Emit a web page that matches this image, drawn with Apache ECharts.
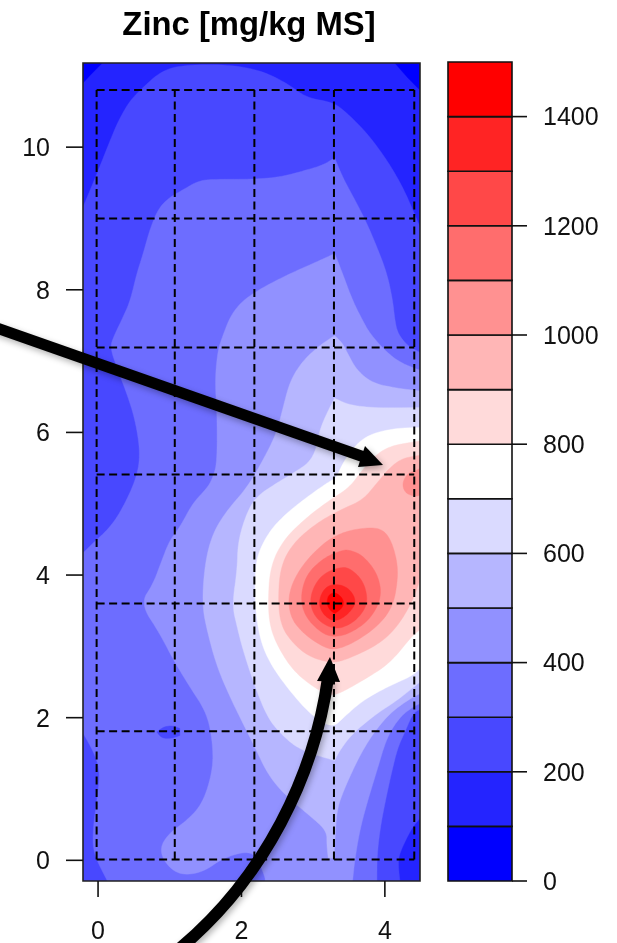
<!DOCTYPE html>
<html><head><meta charset="utf-8">
<style>html,body{margin:0;padding:0;background:#fff}#c{width:617px;height:943px}</style>
<script src="https://cdn.jsdelivr.net/npm/echarts@6/dist/echarts.min.js"></script>
</head><body><div id="c"></div>
<script>
const titleText='Zinc [mg/kg MS]';
const xTicks=[0,2,4];
const yTicks=[0,2,4,6,8,10];
const legendTicks=[0,200,400,600,800,1000,1200,1400];
const levels=[0,100,200,300,400,500,600,700,800,900,1000,1100,1200,1300,1400,1500];
const bandColors=['#0000ff','#2424ff','#4848ff','#6d6dff','#9191ff','#b6b6ff','#dadaff','#ffffff','#ffdada','#ffb6b6','#ff9191','#ff6d6d','#ff4848','#ff2424','#ff0000'];
const xRange=[-0.21,4.49];
const yRange=[-0.29,11.18];
const sampleX=[-0.02,1.07,2.18,3.29,4.41];
const sampleY=[0.01,1.81,3.60,5.41,7.19,9.00,10.80];

// Contour outlines in data units
const below100a=[[-0.21,11.18],[-0.21,10.90],[-0.11,11.01],[0.06,11.18]];
const below100b=[[4.14,11.18],[4.31,10.98],[4.49,10.80],[4.49,11.18]];
const above200=[[-0.21,9.16],[-0.01,9.64],[0.21,10.20],[0.31,10.42],[0.45,10.66],[0.63,10.84],[0.86,11.05],[1.14,11.15],[1.80,11.16],[2.26,11.08],[2.63,10.90],[2.91,10.69],[3.28,10.63],[3.47,10.48],[3.75,10.20],[4.03,9.82],[4.25,9.44],[4.39,9.12],[4.49,8.88],[4.49,0.59],[4.38,0.46],[4.24,0.18],[4.18,0],[4.21,-0.29],[-0.21,-0.29]];
const above300=[[-0.21,4.31],[-0.07,4.45],[0.17,4.67],[0.35,4.95],[0.54,5.37],[0.59,5.71],[0.52,6.17],[0.40,6.55],[0.26,6.91],[0.17,7.19],[0.21,7.33],[0.35,7.62],[0.45,7.85],[0.54,8.23],[0.63,8.51],[0.72,8.84],[0.84,9.14],[1.00,9.30],[1.18,9.40],[1.42,9.54],[1.70,9.55],[2.16,9.55],[2.54,9.58],[2.91,9.68],[3.14,9.75],[3.30,9.85],[3.41,9.58],[3.61,9.21],[3.75,8.93],[3.89,8.60],[4.03,8.23],[4.11,7.85],[4.14,7.57],[4.18,7.39],[4.31,7.22],[4.49,7.12],[4.49,2.12],[4.39,2.06],[4.28,1.80],[4.18,1.58],[4.10,1.26],[4.00,0.80],[3.93,0.42],[3.89,0.04],[3.89,-0.29],[0.13,-0.29],[-0.07,0.10],[-0.07,0.46],[-0.01,0.88],[0.03,1.26],[-0.07,1.54],[-0.21,1.78]];
const dip300=[[0.82,1.80],[0.91,1.87],[1.03,1.89],[1.14,1.85],[1.14,1.75],[1.03,1.71],[0.89,1.71]];
const above400=[[2.33,-0.29],[2.33,-0.24],[2.22,0.04],[2.08,0.13],[1.74,0.03],[1.46,-0.17],[1.14,-0.21],[0.93,-0.04],[0.86,0.18],[1.00,0.39],[1.24,0.56],[1.46,0.80],[1.60,1.26],[1.60,1.64],[1.52,2.06],[1.28,2.43],[1.05,2.81],[0.86,3.18],[0.59,3.60],[0.77,3.88],[0.89,4.21],[1.00,4.49],[1.14,4.67],[1.32,5.01],[1.53,5.23],[1.60,5.37],[1.66,5.57],[1.66,6.27],[1.63,6.73],[1.67,7.15],[1.73,7.33],[1.84,7.62],[1.98,7.81],[2.16,7.95],[2.44,8.11],[2.77,8.27],[3.09,8.41],[3.30,8.51],[3.41,8.23],[3.55,7.85],[3.69,7.57],[3.79,7.39],[4.00,7.15],[4.21,6.98],[4.49,6.87],[4.49,2.20],[4.39,2.15],[4.21,2.01],[4.03,1.73],[3.89,1.26],[3.75,0.80],[3.65,0.42],[3.58,0],[3.55,-0.29]];
const above500=[[3.30,7.36],[3.41,7.25],[3.48,7.11],[3.61,6.87],[3.83,6.69],[4.17,6.62],[4.49,6.58],[4.49,2.34],[4.31,2.24],[4.07,2.06],[3.86,1.81],[3.69,1.54],[3.55,1.26],[3.41,0.94],[3.33,0.70],[3.30,0.21],[3.29,0.03],[3.21,0.03],[3.19,0.21],[3.19,0.42],[2.91,0.66],[2.58,0.94],[2.36,1.22],[2.19,1.58],[2.02,1.92],[1.84,2.29],[1.66,2.71],[1.53,3.18],[1.45,3.58],[1.49,4.17],[1.60,4.59],[1.80,4.91],[2.08,5.23],[2.30,5.61],[2.49,5.99],[2.58,6.35],[2.68,6.73],[2.86,7.01],[3.09,7.22]];
const above600=[[3.30,6.48],[3.51,6.38],[3.93,6.34],[4.49,6.35],[4.49,2.50],[4.17,2.24],[3.89,2.06],[3.55,1.78],[3.37,1.54],[3.30,1.40],[3.05,1.47],[2.77,1.58],[2.54,1.78],[2.36,2.01],[2.19,2.43],[2.02,2.95],[1.94,3.27],[1.87,3.58],[1.94,4.07],[1.95,4.45],[2.05,4.81],[2.19,5.09],[2.49,5.29],[2.72,5.43],[2.95,5.58],[3.05,5.79],[3.09,6.03],[3.19,6.27]];
const above700=[[4.49,6.07],[4.49,2.69],[4.39,2.59],[4.03,2.43],[3.69,2.24],[3.41,1.99],[3.30,1.88],[3.14,1.92],[2.91,2.10],[2.63,2.43],[2.40,2.76],[2.26,3.09],[2.19,3.55],[2.19,4.03],[2.23,4.31],[2.40,4.63],[2.63,4.87],[2.91,5.09],[3.19,5.29],[3.33,5.37],[3.41,5.57],[3.61,5.85],[3.83,5.99],[4.17,6.06]];
const above800=[[4.49,5.88],[4.49,3.23],[4.39,3.16],[4.07,2.76],[3.69,2.52],[3.37,2.34],[3.23,2.31],[3.00,2.43],[2.72,2.66],[2.51,2.99],[2.40,3.27],[2.37,3.60],[2.40,4.11],[2.58,4.49],[2.91,4.81],[3.23,5.05],[3.51,5.23],[3.68,5.47],[3.90,5.71],[4.11,5.82]];
const above900=[[4.49,5.68],[4.49,3.93],[4.38,3.62],[4.17,3.27],[3.93,3.04],[3.55,2.85],[3.28,2.76],[2.95,2.85],[2.72,3.04],[2.56,3.27],[2.51,3.60],[2.54,4.11],[2.72,4.45],[3.05,4.73],[3.37,4.91],[3.69,5.05],[3.89,5.29],[4.07,5.51],[4.25,5.64]];
const above1000=[[3.69,4.66],[3.41,4.60],[3.14,4.45],[2.82,4.11],[2.65,3.74],[2.68,3.41],[2.86,3.18],[3.14,2.99],[3.30,2.95],[3.55,3.04],[3.89,3.27],[4.11,3.55],[4.18,3.93],[4.17,4.21],[4.07,4.53],[3.93,4.66]];
const above1000spot=[[4.49,5.50],[4.45,5.47],[4.32,5.43],[4.24,5.29],[4.28,5.15],[4.42,5.10],[4.49,5.12]];
const above1100=[[3.41,4.35],[3.16,4.25],[2.91,4.02],[2.82,3.69],[2.89,3.41],[3.12,3.18],[3.30,3.13],[3.51,3.18],[3.79,3.37],[3.96,3.69],[3.90,4.02],[3.69,4.28],[3.51,4.35]];
const above1200=[[3.37,4.11],[3.14,4.02],[3.00,3.83],[2.95,3.60],[3.05,3.37],[3.30,3.23],[3.55,3.32],[3.72,3.51],[3.76,3.69],[3.69,3.93],[3.51,4.10]];
const above1300=[[3.33,3.88],[3.16,3.83],[3.07,3.62],[3.14,3.44],[3.30,3.34],[3.48,3.44],[3.61,3.62],[3.51,3.81]];
const above1400=[[3.30,3.76],[3.21,3.72],[3.19,3.60],[3.23,3.51],[3.30,3.46],[3.40,3.53],[3.43,3.62],[3.39,3.70]];

const contourLayers=[
  [bandColors[1],[[xRange[0],yRange[0]],[xRange[1],yRange[0]],[xRange[1],yRange[1]],[xRange[0],yRange[1]]]],
  [bandColors[0],below100a],[bandColors[0],below100b],
  [bandColors[2],above200],[bandColors[3],above300],[bandColors[2],dip300],
  [bandColors[4],above400],[bandColors[5],above500],[bandColors[6],above600],
  [bandColors[7],above700],[bandColors[8],above800],[bandColors[9],above900],
  [bandColors[10],above1000],[bandColors[10],above1000spot],
  [bandColors[11],above1100],[bandColors[12],above1200],[bandColors[13],above1300],[bandColors[14],above1400]
];

const INK='#000';
const FONT='"Liberation Sans", Arial, sans-serif';
const chart=echarts.init(document.getElementById('c'));

// Rounds the drawn outline only: vertices on the plot edge and sharp kinks stay where they were read.
function roundOutline(pts,edge){
  let cur=pts.map(q=>({p:q,fixed:false}));
  const n0=cur.length;
  cur.forEach((v,i)=>{
    const a=cur[(i+n0-1)%n0].p,b=v.p,c=cur[(i+1)%n0].p;
    const t1=Math.atan2(b[1]-a[1],b[0]-a[0]),t2=Math.atan2(c[1]-b[1],c[0]-b[0]);
    let d=Math.abs(t2-t1);if(d>Math.PI)d=2*Math.PI-d;
    v.fixed=d>1.15||edge(b);
  });
  for(let it=0;it<3;it++){
    const out=[],n=cur.length;
    for(let i=0;i<n;i++){
      const v=cur[i],a=cur[(i+n-1)%n],c=cur[(i+1)%n];
      if(v.fixed){out.push(v);continue;}
      out.push({p:[v.p[0]*.75+a.p[0]*.25,v.p[1]*.75+a.p[1]*.25],fixed:false});
      out.push({p:[v.p[0]*.75+c.p[0]*.25,v.p[1]*.75+c.p[1]*.25],fixed:false});
    }
    cur=out;
  }
  return cur.map(v=>v.p);
}
function polySeries(layer){
  return {type:'custom',xAxisIndex:0,yAxisIndex:0,clip:true,silent:true,animation:false,
    data:[0],
    renderItem:(p,api)=>{
      const b0=api.coord([xRange[0],yRange[0]]),b1=api.coord([xRange[1],yRange[1]]);
      const onEdge=q=>Math.abs(q[0]-b0[0])<1||Math.abs(q[0]-b1[0])<1||Math.abs(q[1]-b0[1])<1||Math.abs(q[1]-b1[1])<1;
      return {type:'polygon',
      shape:{points:roundOutline(layer[1].map(q=>api.coord(q)),onEdge)},
      style:{fill:layer[0],stroke:layer[0],lineWidth:0.4}};}};
}
const dashSegments=[
  ...sampleX.map(x=>[[x,sampleY[0]],[x,sampleY[sampleY.length-1]]]),
  ...sampleY.map(y=>[[sampleX[0],y],[sampleX[sampleX.length-1],y]])
];
const legendBands=bandColors.map((c,i)=>[0,levels[i],1,levels[i+1],c]);
const label=v=>'{a|'+v+'}';
const labelRich={a:{padding:[4,0,0,0],fontFamily:FONT,fontSize:25,color:'#111'}};
function tickSeries(xi,yi,values,vertical,at,len){
  return {type:'custom',xAxisIndex:xi,yAxisIndex:yi,clip:false,silent:true,animation:false,z:6,
    data:values.map((_,i)=>i),
    renderItem:(p,api)=>{
      const v=values[p.dataIndex];
      const a=api.coord(vertical?[v,at]:[at,v]);
      return {type:'line',shape:{x1:a[0],y1:a[1],x2:a[0]+(vertical?0:len),y2:a[1]+(vertical?len:0)},
        style:{stroke:'#111',lineWidth:1.6,fill:null}};
    }};
}

const option={
  animation:false,
  backgroundColor:'#fff',
  title:{text:titleText,left:244,top:4,textAlign:'center',
    textStyle:{fontFamily:FONT,fontWeight:'bold',fontSize:32.8,color:INK}},
  grid:[{left:83,top:63,width:337,height:818,outerBoundsMode:'none'},{left:448,top:62,width:64,height:819,outerBoundsMode:'none'}],
  xAxis:[
    {gridIndex:0,type:'value',min:xRange[0],max:xRange[1],splitLine:{show:false},
     axisLine:{show:false},axisTick:{show:false},
     axisLabel:{show:true,customValues:xTicks,formatter:String,margin:39,fontFamily:FONT,fontSize:25,color:'#111'}},
    {gridIndex:1,type:'value',min:0,max:1,show:false}
  ],
  yAxis:[
    {gridIndex:0,type:'value',min:yRange[0],max:yRange[1],splitLine:{show:false},
     axisLine:{show:false},axisTick:{show:false},
     axisLabel:{show:true,customValues:yTicks,formatter:label,rich:labelRich,margin:33}},
    {gridIndex:1,type:'value',position:'right',min:0,max:1500,splitLine:{show:false},
     axisLine:{show:false},axisTick:{show:false},
     axisLabel:{show:true,customValues:legendTicks,formatter:label,rich:labelRich,margin:31}}
  ],
  series:[
    ...contourLayers.map(polySeries),
    {type:'custom',xAxisIndex:0,yAxisIndex:0,silent:true,animation:false,z:5,
     data:dashSegments.map((_,i)=>i),
     renderItem:(p,api)=>{const s=dashSegments[p.dataIndex],a=api.coord(s[0]),b=api.coord(s[1]);
       return {type:'line',shape:{x1:a[0],y1:a[1],x2:b[0],y2:b[1]},
         style:{stroke:'#000',lineWidth:2,lineDash:[8,4.5],fill:null}};}},
    {type:'custom',xAxisIndex:0,yAxisIndex:0,silent:true,animation:false,z:6,data:[0],
     renderItem:(p,api)=>{const a=api.coord([xRange[0],yRange[1]]),b=api.coord([xRange[1],yRange[0]]);
       return {type:'rect',shape:{x:a[0],y:a[1],width:b[0]-a[0],height:b[1]-a[1]},
         style:{fill:null,stroke:'#222',lineWidth:1.6}};}},
    tickSeries(0,0,xTicks,true,yRange[0],16),
    tickSeries(0,0,yTicks,false,xRange[0],-17),
    tickSeries(1,1,legendTicks,false,1,15),
    {type:'custom',xAxisIndex:1,yAxisIndex:1,silent:true,animation:false,
     data:legendBands,
     renderItem:(p,api)=>{const d=legendBands[p.dataIndex],a=api.coord([d[0],d[3]]),b=api.coord([d[2],d[1]]);
       return {type:'rect',shape:{x:a[0],y:a[1],width:b[0]-a[0],height:b[1]-a[1]},
         style:{fill:d[4],stroke:'#111',lineWidth:1.6}};}}
  ],
  graphic:[
    {type:'line',z:100,shape:{x1:-6,y1:327,x2:364,y2:457},
     style:{stroke:'#000',lineWidth:11,shadowBlur:6,shadowColor:'rgba(0,0,0,0.3)',shadowOffsetX:2,shadowOffsetY:3}},
    {type:'polygon',z:100,shape:{points:[[365,446],[383,465],[358,467]]},
     style:{fill:'#000',shadowBlur:6,shadowColor:'rgba(0,0,0,0.3)',shadowOffsetX:2,shadowOffsetY:3}},
    {type:'bezierCurve',z:100,shape:{x1:168,y1:958,cpx1:268,cpy1:880,cpx2:315,cpy2:770,x2:328,y2:678},
     style:{stroke:'#000',lineWidth:12,fill:null,shadowBlur:6,shadowColor:'rgba(0,0,0,0.3)',shadowOffsetX:2,shadowOffsetY:3}},
    {type:'polygon',z:100,shape:{points:[[330,657],[317,681],[340,682]]},
     style:{fill:'#000'}}
  ]
};
chart.setOption(option);
</script></body></html>
